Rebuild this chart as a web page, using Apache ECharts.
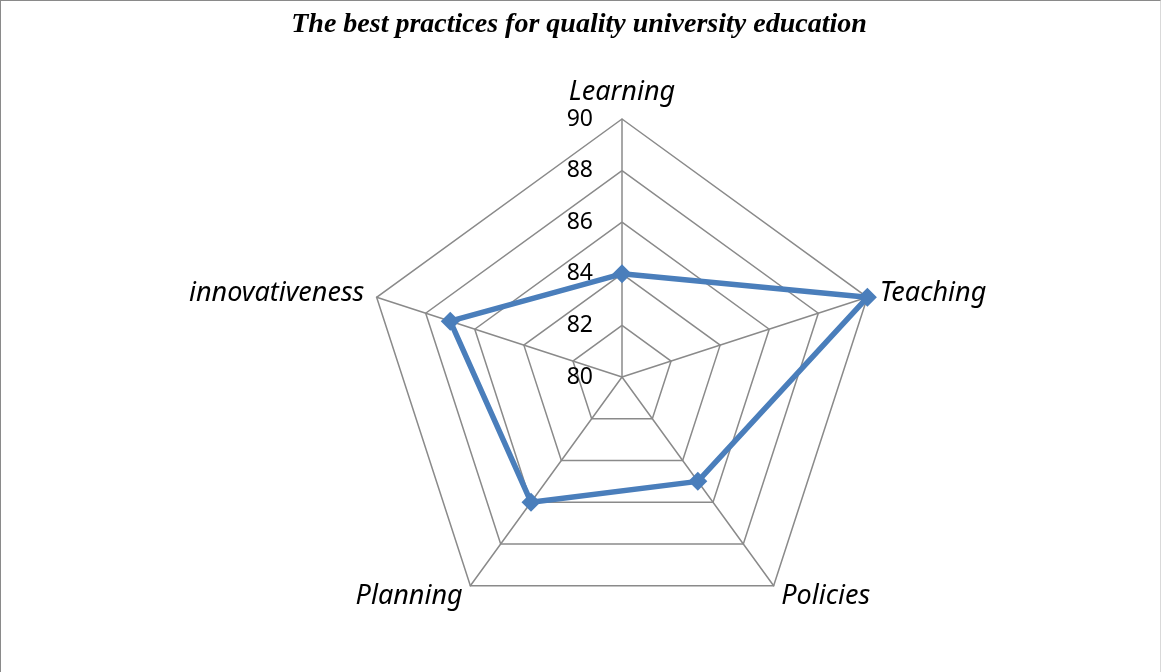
<!DOCTYPE html>
<html>
<head>
<meta charset="utf-8">
<script src="https://cdn.jsdelivr.net/npm/echarts@6/dist/echarts.min.js"></script>
<style>
  html, body { margin: 0; padding: 0; background: #fff; }
  #frame {
    position: absolute; left: 0; top: 0;
    width: 1159px; height: 671px;
    border-left: 1px solid #8a8a8a;
    border-top: 1px solid #8a8a8a;
    border-right: 1px solid #d9d9d9;
  }
  #chart { width: 1159px; height: 671px; }
</style>
</head>
<body>
<div id="frame"><div id="chart"></div></div>
<script>
// Survey scores for each dimension, listed clockwise from the top
const categories = ['Learning', 'Teaching', 'Policies', 'Planning', 'innovativeness'];
const scores = [84, 90, 85, 86, 87];
const scaleMin = 80;
const scaleMax = 90;
const titleText = 'The best practices for quality university education';

// ECharts lays indicators out counter-clockwise, so keep the first one on top
// and reverse the rest to get a clockwise reading order.
const order = [0].concat(categories.slice(1).map((_, i) => categories.length - 1 - i));
const indicators = order.map((idx, k) => ({
  name: categories[idx],
  min: scaleMin,
  max: scaleMax,
  axisLabel: k === 0 ? { show: true } : undefined
}));
const values = order.map(idx => scores[idx]);

const gridGray = '#8a8a8a';
const lineBlue = '#4a7ebb';

const chart = echarts.init(document.getElementById('chart'), null, { renderer: 'canvas' });
chart.setOption({
  animation: false,
  title: {
    text: titleText,
    left: 573,
    textAlign: 'center',
    top: 5,
    textStyle: {
      fontFamily: 'Liberation Serif',
      fontStyle: 'italic',
      fontWeight: 'bold',
      fontSize: 28,
      color: '#000'
    }
  },
  radar: {
    center: [621, 376],
    radius: 258,
    startAngle: 90,
    shape: 'polygon',
    splitNumber: 5,
    nameGap: 13,
    axisName: {
      color: '#000',
      fontFamily: 'Noto Sans',
      fontStyle: 'italic',
      fontSize: 27
    },
    axisLine: { lineStyle: { color: gridGray, width: 1.5 } },
    splitLine: { lineStyle: { color: gridGray, width: 1.5 } },
    splitArea: { show: false },
    axisTick: { show: false },
    axisLabel: {
      show: false,
      color: '#000',
      fontFamily: 'Noto Sans',
      fontSize: 23,
      margin: 29
    },
    indicator: indicators
  },
  series: [{
    type: 'radar',
    symbol: 'diamond',
    symbolSize: 19,
    lineStyle: { color: lineBlue, width: 5.5 },
    itemStyle: { color: lineBlue },
    data: [{ value: values, name: 'Score' }]
  }]
});
</script>
</body>
</html>
